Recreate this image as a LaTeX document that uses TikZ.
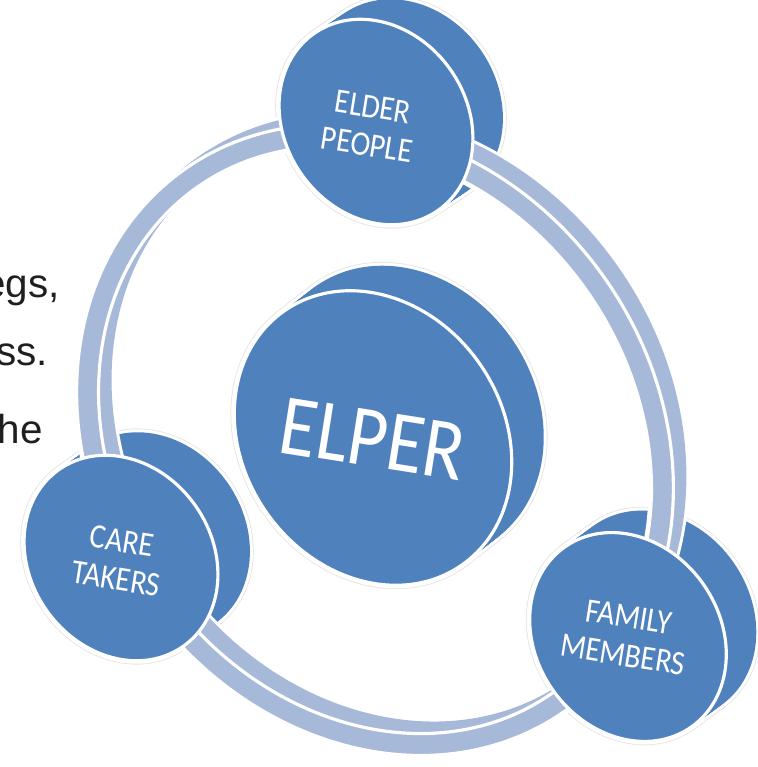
\documentclass[tikz,border=0pt]{standalone}
\usepackage{fontspec}
\setmainfont{Carlito}
\newfontfamily\pagefont{Liberation Sans}
\usepackage{xcolor}
\definecolor{discblue}{RGB}{79,129,189}
\definecolor{ringblue}{RGB}{167,185,217}
\tikzstyle{glow} = [draw=black!10, line width=4.4pt]
\tikzstyle{rim} = [draw=white, line width=3.4pt]
\tikzstyle{face} = [fill=discblue, draw=white, line width=1.8pt]
\tikzstyle{band} = [fill=ringblue, draw=white, line width=1.8pt, even odd rule]
\tikzstyle{label} = [text=white, align=center, rotate=-9, yscale=1.15, font=\fontsize{17}{19}\selectfont]
\tikzstyle{pagetext} = [anchor=base east, inner sep=0pt, text=black!88, font=\pagefont\fontsize{23}{23}\selectfont]

\begin{document}
\begin{tikzpicture}[x=0.02cm, y=-0.02cm]
\useasboundingbox (0,0) rectangle (757,767);

% cut-off lines of the running text
\node (line1) [pagetext] at (60,297) {egs,};
\node (line2) [pagetext] at (48,365) {ss.};
\node (line3) [pagetext] at (43,443) {he};

% back and side of the four discs
\foreach \cx/\cy/\ra/\rb/\dx/\dy in {376/122/108/91/30/-20, 121/558/108/91/32/-23, 628/637/110/92/30/-22, 373/438/155/130/32/-25}
{
  \foreach \k in {0,...,10}
    \draw[glow, shift={(\k*\dx/10,\k*\dy/10)}, rotate around={-55:(\cx,\cy)}] (\cx,\cy) ellipse [x radius=\ra, y radius=\rb];
  \foreach \k in {0,...,10}
    \draw[rim, shift={(\k*\dx/10,\k*\dy/10)}, rotate around={-55:(\cx,\cy)}] (\cx,\cy) ellipse [x radius=\ra, y radius=\rb];
  \foreach \k in {0,...,10}
    \fill[discblue, shift={(\k*\dx/10,\k*\dy/10)}, rotate around={-55:(\cx,\cy)}] (\cx,\cy) ellipse [x radius=\ra, y radius=\rb];
}

% the cycle ring, side first
\foreach \k in {0,...,10}
  \draw[rim, shift={(\k*1.3,-\k*1.2)}, rotate around={-55:(375,440)}] (375,440) ellipse [x radius=331, y radius=281] (375,440) ellipse [x radius=309, y radius=259];
\foreach \k in {0,...,10}
  \fill[ringblue, even odd rule, shift={(\k*1.3,-\k*1.2)}, rotate around={-55:(375,440)}] (375,440) ellipse [x radius=331, y radius=281] (375,440) ellipse [x radius=309, y radius=259];
\path[band, rotate around={-55:(375,440)}] (375,440) ellipse [x radius=331, y radius=281] (375,440) ellipse [x radius=309, y radius=259];

% front faces
\foreach \cx/\cy/\ra/\rb in {376/122/108/91, 121/558/108/91, 628/637/110/92, 373/438/155/130}
  \path[face, rotate around={-55:(\cx,\cy)}] (\cx,\cy) ellipse [x radius=\ra, y radius=\rb];

\node (elder)  [label] at (370,126) {ELDER\\PEOPLE};
\node (care)   [label] at (119,560) {CARE\\TAKERS};
\node (family) [label] at (626,636) {FAMILY\\MEMBERS};
\node (elper)  [label, font=\fontsize{43}{43}\selectfont] at (373,439) {ELPER};

\end{tikzpicture}
\end{document}
